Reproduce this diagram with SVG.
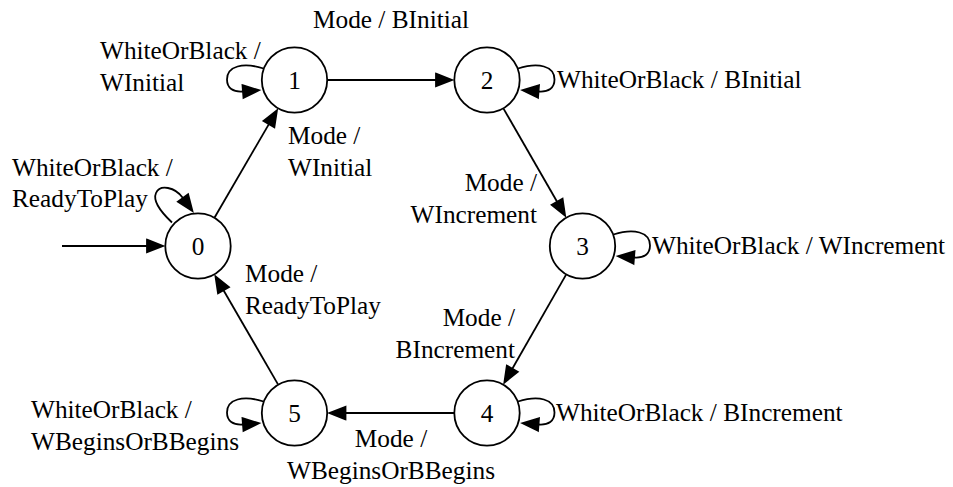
<svg xmlns="http://www.w3.org/2000/svg" width="953" height="487" viewBox="0 0 953 487">
<style>
.node circle{fill:#fff;stroke:#000;stroke-width:1.8}
.node text,.lbl{font-family:'Liberation Serif','Times New Roman',serif;font-size:25.3px;fill:#000}
.node text{text-anchor:middle}
.edge{fill:none;stroke:#000;stroke-width:1.8;marker-end:url(#ah)}
</style>
<defs>
<marker id="ah" markerUnits="userSpaceOnUse" orient="auto" refX="0" refY="0" markerWidth="24" markerHeight="16" overflow="visible">
<path d="M0,-6.3 L16,0 L0,6.3 Z" fill="#000" stroke="#000" stroke-width="1.8"/>
</marker>
</defs>
<rect width="953" height="487" fill="#fff"/>
<g id="connectors">
<path class="edge" d="M62,246 L147,246"/>
<path class="edge" d="M214.6,217.5 L268.9,124.1"/>
<path class="edge" d="M327.5,80 L436,80"/>
<path class="edge" d="M503.5,108.6 L557.1,201.8"/>
<path class="edge" d="M566.1,274.6 L512.3,368.7"/>
<path class="edge" d="M454,413 L345.5,413"/>
<path class="edge" d="M278,384.4 L223.5,290.2"/>
<path class="edge" d="M172,222.5 C163,214 152,202 156,193 C160,184 175,187 183,198"/>
<path class="edge" d="M263.5,68.5 C243,62 227,66 227,79.5 C227,88 233,92.3 243,91.5"/>
<path class="edge" d="M518,68.5 C538.5,62 554.5,66 554.5,79.5 C554.5,88 548.5,92.3 538.5,91.5"/>
<path class="edge" d="M613.5,234.5 C634,228 650,232 650,245.5 C650,254 644,258.3 634,257.5"/>
<path class="edge" d="M518,401.5 C538.5,395 554.5,399 554.5,412.5 C554.5,421 548.5,425.3 538.5,424.5"/>
<path class="edge" d="M263.5,401.5 C243,395 227,399 227,412.5 C227,421 233,425.3 243,424.5"/>
<text class="lbl" x="391" y="28" text-anchor="middle">Mode / BInitial</text>
<text class="lbl" x="100" y="59">WhiteOrBlack /</text>
<text class="lbl" x="100" y="90.5">WInitial</text>
<text class="lbl" x="557" y="88">WhiteOrBlack / BInitial</text>
<text class="lbl" x="288" y="144">Mode /</text>
<text class="lbl" x="288" y="175.5">WInitial</text>
<text class="lbl" x="12" y="175.5">WhiteOrBlack /</text>
<text class="lbl" x="12" y="207">ReadyToPlay</text>
<text class="lbl" x="537" y="191" text-anchor="end">Mode /</text>
<text class="lbl" x="537" y="222.5" text-anchor="end">WIncrement</text>
<text class="lbl" x="652" y="254">WhiteOrBlack / WIncrement</text>
<text class="lbl" x="245" y="282">Mode /</text>
<text class="lbl" x="245" y="313.5">ReadyToPlay</text>
<text class="lbl" x="515" y="326" text-anchor="end">Mode /</text>
<text class="lbl" x="515" y="357.5" text-anchor="end">BIncrement</text>
<text class="lbl" x="31" y="418">WhiteOrBlack /</text>
<text class="lbl" x="31" y="449.5">WBeginsOrBBegins</text>
<text class="lbl" x="556" y="421">WhiteOrBlack / BIncrement</text>
<text class="lbl" x="391" y="447" text-anchor="middle">Mode /</text>
<text class="lbl" x="391" y="478.5" text-anchor="middle">WBeginsOrBBegins</text>
</g>
<g id="node0" class="node"><circle cx="198" cy="246" r="32.7"/><text x="198" y="254.5">0</text></g>
<g id="node1" class="node"><circle cx="294.5" cy="80" r="32.7"/><text x="294.5" y="88.5">1</text></g>
<g id="node2" class="node"><circle cx="487" cy="80" r="32.7"/><text x="487" y="88.5">2</text></g>
<g id="node3" class="node"><circle cx="582.5" cy="246" r="32.7"/><text x="582.5" y="254.5">3</text></g>
<g id="node4" class="node"><circle cx="487" cy="413" r="32.7"/><text x="487" y="421.5">4</text></g>
<g id="node5" class="node"><circle cx="294.5" cy="413" r="32.7"/><text x="294.5" y="421.5">5</text></g>
</svg>
